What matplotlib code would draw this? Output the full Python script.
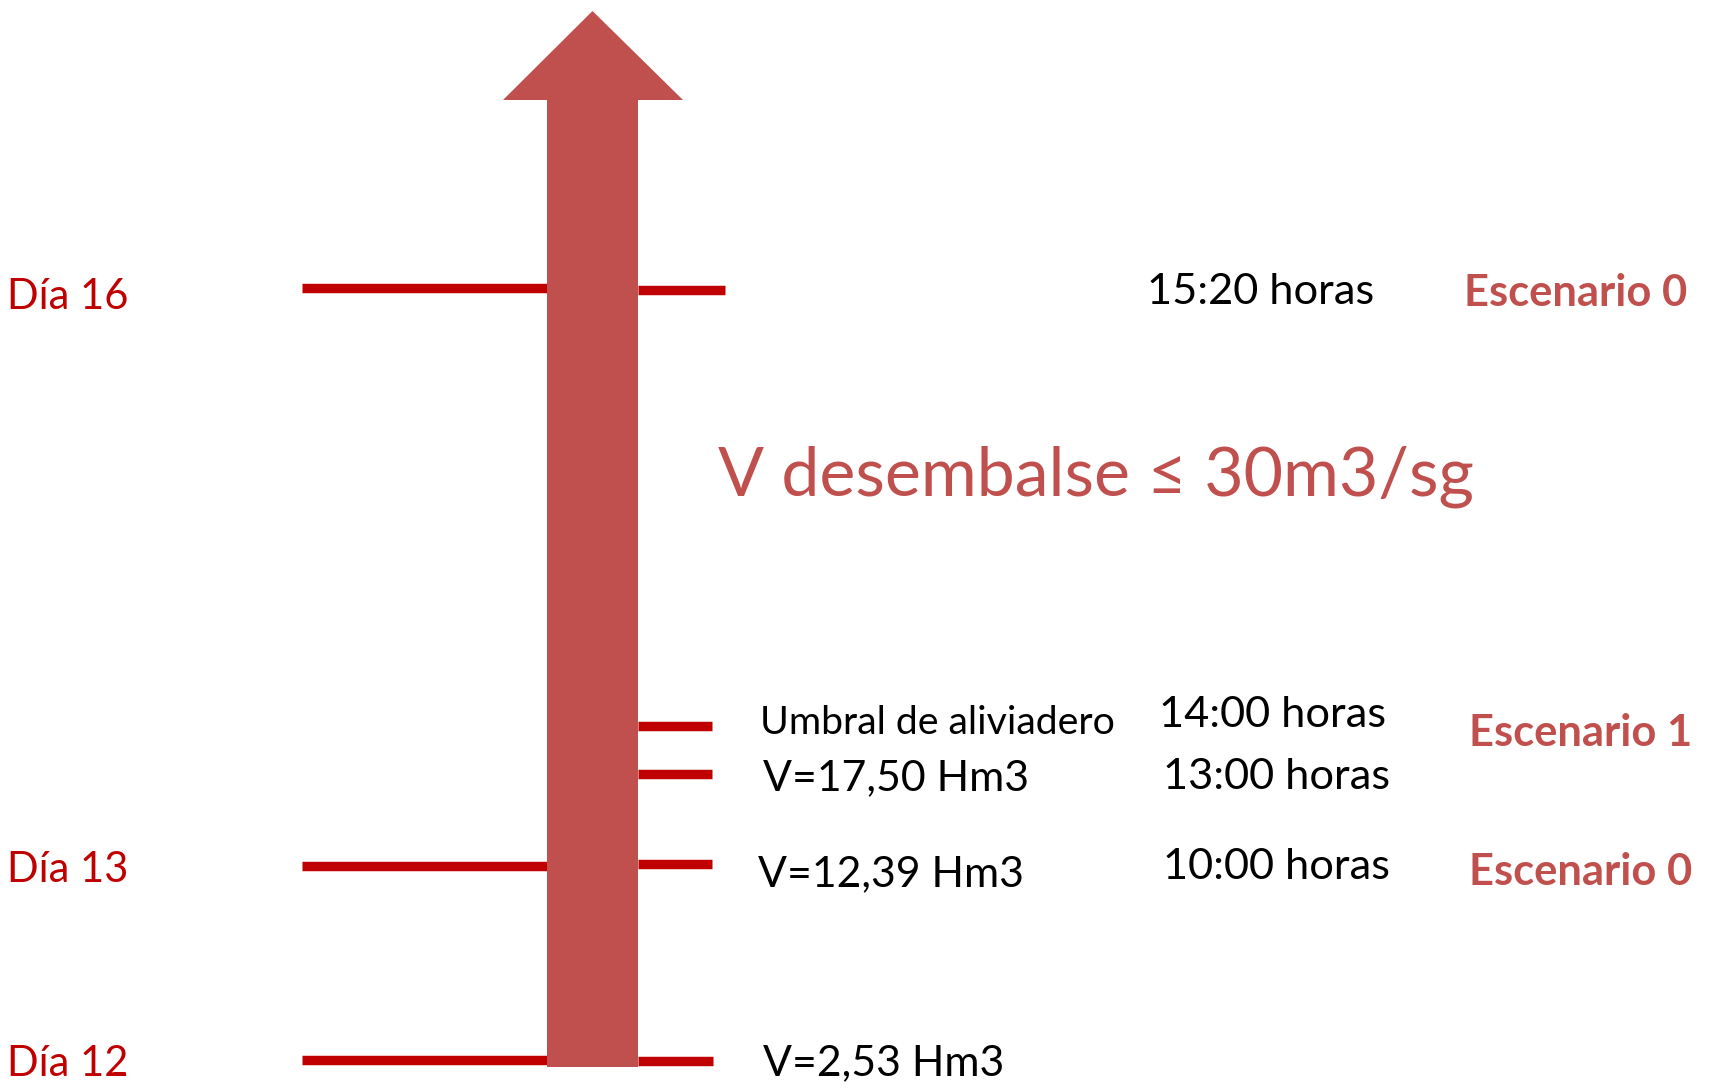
import matplotlib.pyplot as plt

plt.rcParams['font.family'] = ['Lato', 'DejaVu Sans']

# ========== datos (coordenadas del esquema, en px de la imagen) ==========
# niveles de los días (eje temporal vertical)
dias = ['Día 16', 'Día 13', 'Día 12']
dias_y = [288, 866, 1060]
dias_txt_y = [297, 870, 1064]

# marcas a la derecha de la flecha
marcas_y = [290, 726, 774, 864, 1061]
marcas_fin = [725, 712, 712, 712, 713]

# textos de volumen / umbral
vol_txt = ['Umbral de aliviadero', 'V=17,50 Hm3', 'V=12,39 Hm3', 'V=2,53 Hm3']
vol_y = [723, 778, 874, 1063]
vol_x = [760, 763, 758, 763]

# horas
horas = ['15:20 horas', '14:00 horas', '13:00 horas', '10:00 horas']
horas_y = [292, 715, 777, 867]
horas_x = [1147, 1159, 1163, 1163]

# escenarios
escenarios = ['Escenario 0', 'Escenario 1', 'Escenario 0']
esc_y = [293, 733, 872]
esc_x = [1464, 1469, 1469]

titulo = 'V desembalse ≤ 30m3/sg'

rojo = '#C00000'
rojo2 = '#C0504D'

fig = plt.figure(figsize=(17.1, 10.88), dpi=100)
ax = fig.add_axes([0, 0, 1, 1])
ax.set_xlim(0, 1710)
ax.set_ylim(1088, 0)
ax.axis('off')

# líneas de los días (por debajo de la flecha)
ax.hlines(dias_y, 302, 551, color=rojo, lw=6.8, zorder=1)
ax.hlines(marcas_y, 638, marcas_fin, color=rojo, lw=6.8, zorder=1)

# flecha
x0, x1 = 547, 638
hx0, hx1 = 503, 683
tip_y, base_y, fondo = 11, 100, 1067
xc = (x0 + x1) / 2
ax.fill([x0, x0, hx0, xc, hx1, x1, x1],
        [fondo, base_y, base_y, tip_y, base_y, base_y, fondo],
        color=rojo2, lw=0, zorder=2)

for t, y in zip(dias, dias_txt_y):
    ax.text(7, y, t, color=rojo, fontsize=30, va='center', ha='left')

ax.text(718, 477, titulo, color=rojo2, fontsize=49, va='center', ha='left')

for t, x, y in zip(vol_txt, vol_x, vol_y):
    fs = 28.3 if t.startswith('Umbral') else 30.8
    ax.text(x, y, t, color='black', fontsize=fs, va='center', ha='left')

for t, x, y in zip(horas, horas_x, horas_y):
    ax.text(x, y, t, color='black', fontsize=31.2, va='center', ha='left')

for t, x, y in zip(escenarios, esc_x, esc_y):
    ax.text(x, y, t, color=rojo2, fontsize=31.3, fontweight='bold',
            va='center', ha='left')

plt.savefig('out.png', dpi=100)
